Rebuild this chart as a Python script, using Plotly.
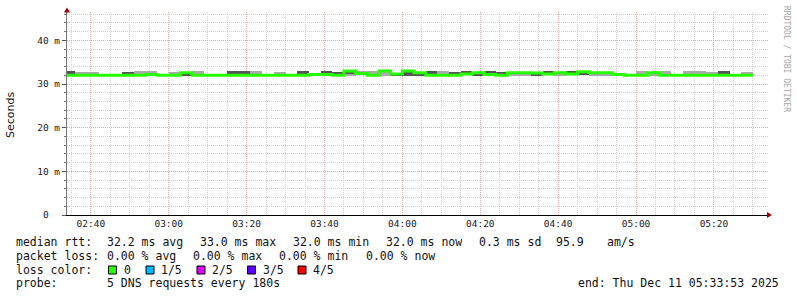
import plotly.graph_objects as go
import pandas as pd

# ---------------- data (milliseconds) ----------------
step_start = "2025-12-11 02:33:00"
n_steps = 59
step_seconds = 180

median = [32.0, 32.0, 32.0, 32.0, 32.0, 32.0, 32.0, 32.2, 32.0, 32.0,
          32.6, 32.0, 32.0, 32.0, 32.0, 32.0, 32.0, 32.0, 32.0, 32.0,
          32.0, 32.2, 32.2, 32.0, 33.0, 32.4, 32.0, 33.0, 32.3, 33.0,
          32.6, 32.0, 32.0, 32.0, 32.3, 32.6, 32.2, 32.0, 32.6, 32.6,
          32.5, 32.3, 32.6, 32.3, 32.8, 32.6, 32.6, 32.2, 32.0, 32.0,
          32.6, 32.0, 32.0, 32.0, 32.0, 32.0, 32.0, 32.0, 32.0]

smoke_max = [33.0, 32.75, 32.75, 32.0, 32.0, 32.75, 33.0, 33.0, 32.0, 32.75,
             32.6, 33.0, 32.0, 32.0, 33.0, 33.0, 33.0, 32.0, 32.75, 32.0,
             33.0, 32.2, 33.0, 32.75, 33.0, 33.0, 33.0, 33.0, 32.3, 33.0,
             32.6, 33.0, 33.0, 32.75, 33.0, 32.6, 33.0, 32.75, 32.6, 32.6,
             32.5, 33.0, 32.6, 33.0, 32.8, 32.6, 32.6, 32.2, 32.0, 33.0,
             32.6, 33.0, 32.0, 33.0, 33.0, 32.75, 33.0, 32.0, 32.75]

inner_hi = [33.0, 32.0, 32.0, 32.0, 32.0, 32.75, 32.0, 32.2, 32.0, 32.0,
            32.6, 32.0, 32.0, 32.0, 33.0, 33.0, 32.0, 32.0, 32.0, 32.0,
            33.0, 32.2, 33.0, 32.75, 33.0, 32.4, 32.0, 33.0, 32.3, 33.0,
            32.6, 33.0, 32.0, 32.75, 33.0, 32.6, 33.0, 32.75, 32.6, 32.6,
            32.5, 33.0, 32.6, 33.0, 32.8, 32.6, 32.6, 32.2, 32.0, 32.0,
            32.6, 32.0, 32.0, 32.0, 32.0, 32.0, 33.0, 32.0, 32.0]

inner_lo = [32.0, 32.0, 32.0, 32.0, 32.0, 32.0, 32.0, 32.2, 32.0, 32.0,
            31.85, 32.0, 32.0, 32.0, 32.0, 32.0, 32.0, 32.0, 32.0, 32.0,
            32.0, 32.2, 32.2, 32.0, 32.3, 32.4, 32.0, 33.0, 31.85, 31.85,
            31.85, 32.0, 32.0, 32.0, 32.3, 31.85, 32.2, 32.0, 32.6, 32.6,
            31.85, 32.3, 32.6, 32.3, 32.05, 32.6, 32.6, 32.2, 32.0, 32.0,
            32.6, 32.0, 32.0, 32.0, 32.0, 32.0, 32.0, 32.0, 32.0]

smoke_min = [32.0, 32.0, 32.0, 32.0, 32.0, 32.0, 32.0, 32.2, 32.0, 32.0,
             31.85, 32.0, 32.0, 32.0, 32.0, 32.0, 32.0, 32.0, 32.0, 32.0,
             32.0, 32.2, 32.2, 32.0, 31.85, 32.4, 32.0, 31.85, 31.85, 31.85,
             31.85, 32.0, 32.0, 32.0, 32.3, 31.85, 32.2, 32.0, 31.85, 31.85,
             31.85, 32.3, 31.85, 32.3, 32.05, 31.85, 31.85, 32.2, 32.0, 32.0,
             31.85, 32.0, 32.0, 32.0, 32.0, 32.0, 32.0, 32.0, 32.0]

y_tick_vals = [0, 10, 20, 30, 40]
y_tick_text = ["0\u00a0\u00a0", "10 m", "20 m", "30 m", "40 m"]

x_range = ["2025-12-11 02:33:53", "2025-12-11 05:33:53"]
x_tick0 = "2025-12-11 02:40:00"

loss_labels = ["0", "1/5", "2/5", "3/5", "4/5"]
loss_colors = ["#26ff00", "#00b8ff", "#dd00ff", "#5e00ff", "#ff0000"]

line1 = ["median rtt:", "32.2 ms avg", "33.0 ms max", "32.0 ms min", "32.0 ms now", "0.3 ms sd", "95.9", "am/s"]
line2 = ["packet loss:", "0.00 % avg", "0.00 % max", "0.00 % min", "0.00 % now"]
probe_text = ["probe:", "5 DNS requests every 180s"]
end_text = "end: Thu Dec 11 05:33:53 2025"

# ---------------- figure ----------------
W, H = 797, 297
L, R, T, B = 67, 29, 12, 82
PW, PH = W - L - R, H - T - B

times = pd.date_range(step_start, periods=n_steps, freq=f"{step_seconds}s")
step_ms = step_seconds * 1000

fig = go.Figure()
fig.add_trace(go.Bar(x=times, y=[a - b for a, b in zip(smoke_max, smoke_min)], base=smoke_min,
                     width=step_ms, offset=0, marker=dict(color="#aaaaaa", line=dict(width=0)),
                     hoverinfo="skip"))
fig.add_trace(go.Bar(x=times, y=[a - b for a, b in zip(inner_hi, inner_lo)], base=inner_lo,
                     width=step_ms, offset=0, marker=dict(color="#555555", line=dict(width=0)),
                     hoverinfo="skip"))
line_x = list(times) + [times[-1] + pd.Timedelta(seconds=step_seconds)]
line_y = list(median) + [median[-1]]
fig.add_trace(go.Scatter(x=line_x, y=line_y, mode="lines", line=dict(color="#26ff00", width=3, shape="hv"),
                         hoverinfo="skip"))

minor_grid = "#d0d0d0"
major_grid = "#e6a8a8"

fig.update_layout(
    width=W, height=H, autosize=False,
    margin=dict(l=L, r=R, t=T, b=B, pad=0),
    paper_bgcolor="white", plot_bgcolor="white",
    showlegend=False, barmode="overlay", bargap=0,
    font=dict(family="DejaVu Sans Mono", size=9.5, color="#222"),
)
fig.update_xaxes(
    type="date", range=x_range, tick0=x_tick0, dtick=20 * 60 * 1000, tickformat="%H:%M",
    showgrid=True, gridcolor=major_grid, griddash="1px,1px", gridwidth=1,
    minor=dict(tick0=x_tick0, dtick=5 * 60 * 1000, showgrid=True, gridcolor=minor_grid,
               griddash="1px,1px", gridwidth=1),
    showline=True, linecolor="#000", linewidth=1, ticks="", zeroline=False,
    tickfont=dict(family="DejaVu Sans Mono", size=9.5, color="#222"),
    fixedrange=True,
)
fig.update_yaxes(
    range=[0, 46.5], tickvals=y_tick_vals, ticktext=y_tick_text,
    showgrid=True, gridcolor=major_grid, griddash="1px,1px", gridwidth=1,
    minor=dict(dtick=2, showgrid=True, gridcolor=minor_grid, griddash="1px,1px", gridwidth=1,
               ticks="outside", ticklen=2, tickcolor="#777"),
    showline=True, linecolor="#777", linewidth=1, ticks="outside", ticklen=4, tickcolor="#555",
    zeroline=False,
    tickfont=dict(family="DejaVu Sans Mono", size=9.5, color="#222"),
    fixedrange=True,
)


def px_x(x):
    return (x - L) / PW


def px_y(y):
    return (H - B - y) / PH


annotations = []


def ann(text, x, y, size=11.5, family="DejaVu Sans Mono", color="#111", **kw):
    d = dict(text=text, xref="paper", yref="paper", x=px_x(x), y=px_y(y), xanchor="left",
             yanchor="middle", showarrow=False, borderpad=0, borderwidth=0,
             font=dict(family=family, size=size, color=color))
    d.update(kw)
    annotations.append(d)


x1 = [16, 107, 200, 293, 386, 479, 556, 607]
for t, x in zip(line1, x1):
    ann(t, x, 241.5)
x2 = [16, 107, 193, 279, 365.5]
for t, x in zip(line2, x2):
    ann(t, x, 255.5)
ann("loss color:", 16, 269.5)
box_x = [108.5, 146, 197, 247.5, 298]
shapes = []
for lab, col, bx in zip(loss_labels, loss_colors, box_x):
    shapes.append(dict(type="rect", xref="paper", yref="paper", x0=px_x(bx), x1=px_x(bx + 8),
                       y0=px_y(274), y1=px_y(266), fillcolor=col, line=dict(color="#000", width=1)))
    ann(lab, bx + 15, 269.5)
ann(probe_text[0], 16, 283)
ann(probe_text[1], 107, 283)
ann(end_text, 578, 283)

# axis title and watermark
ann("Seconds", 11, 115, size=11, family="DejaVu Sans", textangle=-90, xanchor="center")
ann("RRDTOOL / TOBI OETIKER", 787, 59, size=8, color="#a8a8a8", textangle=90, xanchor="center")

# axis arrows
arrow_col = "#a00000"
shapes.append(dict(type="path", xref="paper", yref="paper",
                   path=f"M {px_x(767)} {px_y(212)} L {px_x(772)} {px_y(215)} L {px_x(767)} {px_y(218)} Z",
                   fillcolor=arrow_col, line=dict(color=arrow_col, width=0)))
shapes.append(dict(type="path", xref="paper", yref="paper",
                   path=f"M {px_x(64)} {px_y(12.5)} L {px_x(67)} {px_y(7.5)} L {px_x(70)} {px_y(12.5)} Z",
                   fillcolor=arrow_col, line=dict(color=arrow_col, width=0)))
shapes.append(dict(type="line", xref="paper", yref="paper", x0=1, x1=px_x(768), y0=0, y1=0,
                   line=dict(color="#000", width=1)))

fig.update_layout(annotations=annotations, shapes=shapes)
fig.write_html("out.html")
